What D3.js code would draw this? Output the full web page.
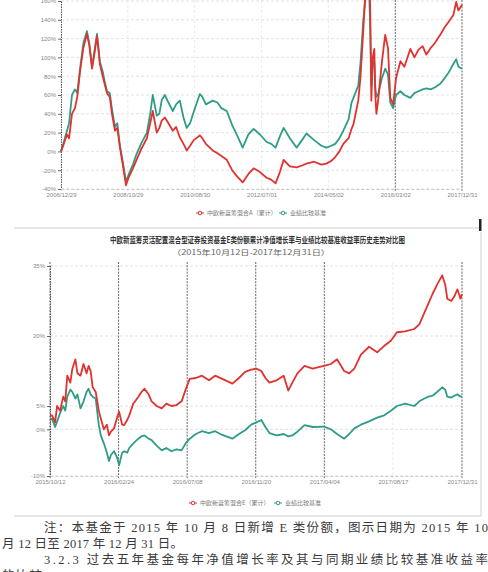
<!DOCTYPE html>
<html>
<head>
<meta charset="utf-8">
<script src="https://cdn.jsdelivr.net/npm/d3@7"></script>
<style>
  body { margin: 0; background: #fff; }
  svg { display: block; }
</style>
</head>
<body>
<div id="wrapper"></div>
<script>
// ---- data: top chart (since inception)
const topDates = [
  "2006-12-29","2007-01-20","2007-02-27","2007-03-20","2007-04-18","2007-05-18","2007-06-10","2007-07-08","2007-08-10","2007-09-15",
  "2007-10-10","2007-11-05","2007-12-01","2007-12-25","2008-01-23","2008-02-20","2008-03-10","2008-04-03","2008-05-01","2008-05-23",
  "2008-06-22","2008-07-15","2008-08-11","2008-09-10","2008-10-10","2008-11-05","2008-12-19","2009-01-20","2009-03-10","2009-05-08",
  "2009-06-10","2009-07-06","2009-08-15","2009-09-10","2009-10-05","2009-11-04","2009-12-10","2010-01-23","2010-02-25","2010-04-03",
  "2010-05-10","2010-06-11","2010-07-15","2010-08-20","2010-10-21","2010-11-15","2010-12-20","2011-02-27","2011-04-15","2011-05-25",
  "2011-07-18","2011-09-10","2011-10-25","2011-12-24","2012-02-20","2012-04-12","2012-06-15","2012-08-20","2012-10-05","2012-11-18",
  "2012-12-31","2013-02-07","2013-04-10","2013-06-17","2013-08-10","2013-09-24","2013-12-10","2014-02-20","2014-04-12","2014-06-01",
  "2014-07-09","2014-08-20","2014-09-28","2014-11-20","2014-12-20","2015-01-08","2015-02-25","2015-03-20","2015-04-17","2015-05-10",
  "2015-05-27","2015-06-12","2015-06-25","2015-07-06","2015-07-20","2015-08-05","2015-08-15","2015-08-26","2015-09-13","2015-10-20",
  "2015-11-22","2015-12-20","2016-01-12","2016-02-10","2016-03-10","2016-04-23","2016-06-01","2016-07-31","2016-09-10","2016-10-20",
  "2016-12-01","2017-01-08","2017-02-20","2017-04-01","2017-05-27","2017-07-10","2017-08-20","2017-10-05","2017-11-03","2017-11-25",
  "2017-12-31"
]
const topFund = [
  0, 6, 18, 14, 40, 46, 58, 85, 110, 125,
  112, 88, 105, 123, 93, 80, 72, 62, 58, 40,
  22, 25, 4, -15, -36, -28, -18, -10, 2, 14,
  30, 43, 20, 25, 33, 36, 30, 22, 26, 15,
  8, 1, 6, 12, 17, 14, 8, 1, -2, -5,
  -9, -20, -26, -33, -24, -18, -22, -28, -30, -34,
  -22, -9, -16, -17, -15, -13, -11, -14, -13, -10,
  -6, 0, 8, 14, 24, 29, 54, 80, 130, 175,
  190, 200, 150, 54, 100, 109, 60, 40, 55, 95,
  124, 110, 57, 50, 78, 96, 90, 109, 100, 108,
  112, 103, 110, 115, 124, 132, 138, 145, 159, 150,
  156
]
const topBench = [
  0, 8, 22, 30, 60, 66, 62, 88, 115, 128,
  114, 90, 108, 125, 95, 85, 75, 64, 62, 45,
  26, 30, 6, -12, -32, -25, -14, -4, 8, 20,
  40, 60, 38, 40, 55, 60, 52, 43, 50, 54,
  36, 25, 30, 42, 61, 58, 50, 54, 52, 46,
  43, 28, 18, 4, 18, 24, 18, 10, 8, 4,
  16, 25, 14, 4, 12, 19, 12, 6, 4, 6,
  8, 14, 22, 34, 52, 57, 70, 95, 140, 165,
  175, 180, 130, 70, 96, 94, 67, 58, 61, 78,
  88, 82, 52, 46, 60, 64, 60, 57, 62, 64,
  66, 67, 66, 68, 72, 78, 84, 93, 98, 90,
  88
]
const topXTicks = ["2006-12-29","2008-10-29","2010-08-30","2012-07-01","2014-05-02","2016-03-02","2017-12-31"]
const topYTicks = [-40, -20, 0, 20, 40, 60, 80, 100, 120, 140, 160]
const topLegend = ["中欧新蓝筹混合A（累计）", "业绩比较基准"]

// ---- data: bottom chart (E share)
const bottomDates = [
  "2015-10-12","2015-10-16","2015-10-22","2015-10-26","2015-11-01","2015-11-07","2015-11-11","2015-11-15","2015-11-21","2015-11-25",
  "2015-12-01","2015-12-05","2015-12-11","2015-12-17","2015-12-23","2015-12-27","2015-12-31","2016-01-04","2016-01-10","2016-01-16",
  "2016-01-20","2016-01-26","2016-02-01","2016-02-05","2016-02-09","2016-02-15","2016-02-21","2016-02-25","2016-03-02","2016-03-06",
  "2016-03-12","2016-03-16","2016-03-24","2016-04-03","2016-04-09","2016-04-15","2016-04-23","2016-04-29","2016-05-09","2016-05-19",
  "2016-05-28","2016-06-07","2016-06-17","2016-06-27","2016-07-05","2016-07-13","2016-07-25","2016-08-06","2016-08-20","2016-09-01",
  "2016-09-15","2016-10-05","2016-10-18","2016-10-30","2016-11-11","2016-11-21","2016-12-01","2016-12-09","2016-12-17","2016-12-31",
  "2017-01-14","2017-01-23","2017-01-31","2017-02-10","2017-02-24","2017-03-12","2017-04-03","2017-04-17","2017-04-29","2017-05-13",
  "2017-05-23","2017-06-02","2017-06-15","2017-07-01","2017-07-17","2017-07-31","2017-08-13","2017-08-25","2017-09-10","2017-09-28",
  "2017-10-08","2017-10-18","2017-10-26","2017-11-03","2017-11-12","2017-11-22","2017-11-28","2017-12-02","2017-12-10","2017-12-16",
  "2017-12-22","2017-12-28","2017-12-31"
]
const bottomFund = [
  3, 3, 1.5, 5, 4, 7, 6, 11.5, 10, 13,
  15, 12, 11.5, 14, 12, 13.6, 12.5, 9, 8, 4,
  2.3, 0, 1, -1.3, -0.5, 0.2, 2.5, 3.8, 1, 0.9,
  2, 3, 5.5, 7, 8, 8.7, 7.5, 6, 5, 4.5,
  5.5, 5, 5.2, 6, 8.5, 10.8, 11, 11.5, 10.5, 11.5,
  10.8, 9.8, 11, 12.3, 12.8, 13, 12.5, 11, 10, 10.5,
  11.5, 8.3, 10, 12, 13.6, 13, 13.6, 14, 15, 12.5,
  12, 13, 16, 17.7, 16.5, 17.9, 19, 20.8, 21, 21.5,
  22.5, 25, 27, 29, 31, 33, 31, 28, 27.5, 28.5,
  30, 28, 29
]
const bottomBench = [
  2, 2.3, 0.5, 1.7, 3.5, 5, 4, 7, 8.5, 8,
  6.6, 7.5, 4.5, 6, 8, 8.7, 7.5, 7, 6.6, 1,
  -1.3, -3, -5, -6.8, -5.5, -4.7, -6, -7.7, -5, -4.7,
  -5, -4, -3, -2, -1.5, -1.3, -2, -2.3, -3.5, -4.5,
  -4, -4.7, -4.3, -4.5, -3, -2, -1, -0.4, -0.8, -0.4,
  -1.2, -2, -1, -0.2, 1, 1.5, 2, 0.5, -0.8, -1.3,
  -1, -1.5, -1.3, -0.5, 0.9, 0.5, 0.6, 0, -1, -2,
  -1, 0.2, 1, 1.7, 2.5, 3, 4, 5, 5.5, 5,
  6, 6.6, 7, 7.2, 8, 9, 8.5, 7, 6.8, 7.2,
  7.5, 7, 7
]
const bottomXTicks = ["2015-10-12","2016-02-24","2016-07-08","2016-11-20","2017-04-04","2017-08-17","2017-12-31"]
const bottomYTicks = [-10, 0, 5, 20, 35]
const bottomLegend = ["中欧新蓝筹混合E（累计）", "业绩比较基准"]
const bottomTitle = "中欧新蓝筹灵活配置混合型证券投资基金E类份额累计净值增长率与业绩比较基准收益率历史走势对比图"
const bottomSubtitle = "（2015年10月12日-2017年12月31日）"

const noteLines = [
  "注：本基金于 2015 年 10 月 8 日新增 E 类份额，图示日期为 2015 年 10",
  "月 12 日至 2017 年 12 月 31 日。",
  "3.2.3 过去五年基金每年净值增长率及其与同期业绩比较基准收益率",
  "的比较"
]

const fundColor = "#e1322f"
const benchColor = "#2f9c86"
const parseDate = d3.timeParse("%Y-%m-%d")
const formatDate = d3.timeFormat("%Y/%m/%d")

const wrapper = d3.select("#wrapper")
  .append("svg")
    .attr("width", 488)
    .attr("height", 572)

function drawPanel(p) {
  const xScale = d3.scaleTime()
    .domain([parseDate(p.xTicks[0]), parseDate(p.xTicks[p.xTicks.length - 1])])
    .range([p.left, p.right])
  const yScale = d3.scaleLinear()
    .domain(p.yDomain)
    .range([p.bottom, p.top])

  const g = wrapper.append("g")

  // grid
  g.append("g").selectAll("line")
    .data(p.yTicks)
    .join("line")
      .attr("x1", p.left)
      .attr("x2", p.right)
      .attr("y1", d => yScale(d))
      .attr("y2", d => yScale(d))
      .attr("stroke", "#d6d6d6")
      .attr("stroke-width", 0.7)
      .attr("stroke-dasharray", "3,2")

  g.append("g").selectAll("line")
    .data(p.xTicks)
    .join("line")
      .attr("x1", d => xScale(parseDate(d)))
      .attr("x2", d => xScale(parseDate(d)))
      .attr("y1", p.vTop)
      .attr("y2", p.bottom + 2)
      .attr("stroke", (d, i) => p.darkX.includes(i) ? "#555" : "#e2e2e2")
      .attr("stroke-width", (d, i) => p.darkX.includes(i) ? 0.9 : 0.7)
      .attr("stroke-dasharray", (d, i) => p.darkX.includes(i) ? "2,1.2" : "3,2")

  // lines
  const line = values => d3.line()
    .x((d, i) => xScale(parseDate(p.dates[i])))
    .y(d => yScale(d))(values)

  g.append("path")
    .attr("d", line(p.bench))
    .attr("fill", "none")
    .attr("stroke", benchColor)
    .attr("stroke-width", 1.8)
    .attr("stroke-linejoin", "round")
  g.append("path")
    .attr("d", line(p.fund))
    .attr("fill", "none")
    .attr("stroke", fundColor)
    .attr("stroke-width", 1.8)
    .attr("stroke-linejoin", "round")

  // axes
  const yAxis = d3.axisLeft(yScale)
    .tickValues(p.yTicks)
    .tickFormat(d => d + "%")
    .tickSize(3)
    .tickPadding(2)
  g.append("g")
    .attr("transform", `translate(${p.left},0)`)
    .call(yAxis)
    .call(a => a.select(".domain").attr("stroke", "#555").attr("stroke-dasharray", "1.5,1"))
    .call(a => a.selectAll(".tick line").attr("stroke", "#666"))
    .call(a => a.selectAll("text")
      .attr("font-size", 6)
      .attr("font-family", "Liberation Sans, sans-serif")
      .attr("fill", "#888"))

  const xAxis = d3.axisBottom(xScale)
    .tickValues(p.xTicks.map(parseDate))
    .tickFormat(formatDate)
    .tickSize(0)
    .tickPadding(4)
  g.append("g")
    .attr("transform", `translate(0,${p.bottom})`)
    .call(xAxis)
    .call(a => a.select(".domain").attr("stroke", "#ccc").attr("stroke-dasharray", "3,2"))
    .call(a => a.selectAll("text")
      .attr("font-size", 6)
      .attr("font-family", "Liberation Sans, sans-serif")
      .attr("fill", "#888"))

  // legend
  const items = [
    {label: p.legend[0], color: fundColor, x: p.legendX[0]},
    {label: p.legend[1], color: benchColor, x: p.legendX[1]}
  ]
  const leg = g.append("g").selectAll("g")
    .data(items)
    .join("g")
      .attr("transform", d => `translate(${d.x},${p.legendY})`)
  leg.append("line")
    .attr("x1", -4).attr("x2", 4)
    .attr("stroke", d => d.color)
    .attr("stroke-width", 1)
  leg.append("circle")
    .attr("r", 1.8)
    .attr("fill", "#fff")
    .attr("stroke", d => d.color)
    .attr("stroke-width", 1)
  leg.append("text")
    .attr("x", 7)
    .attr("dy", "0.35em")
    .attr("font-size", 6)
    .attr("font-family", "Noto Sans CJK SC, sans-serif")
    .attr("fill", "#777")
    .text(d => d.label)
}

// top panel
drawPanel({
  dates: topDates, fund: topFund, bench: topBench,
  xTicks: topXTicks, yTicks: topYTicks, yDomain: [-40, 160],
  left: 61, right: 462, top: 1, bottom: 189, vTop: 0,
  darkX: [5, 6], legend: topLegend, legendX: [200, 283], legendY: 213
})
wrapper.append("line")
  .attr("x1", 14).attr("x2", 480).attr("y1", 228).attr("y2", 228)
  .attr("stroke", "#d0d0d0")
wrapper.append("rect")
  .attr("x", 479).attr("y", 219).attr("width", 2.5).attr("height", 12)
  .attr("fill", "#222")

// bottom panel
wrapper.append("text")
  .attr("x", 110).attr("y", 243)
  .attr("textLength", 295)
  .attr("lengthAdjust", "spacingAndGlyphs")
  .attr("font-size", 8.5)
  .attr("font-weight", "bold")
  .attr("font-family", "Noto Sans CJK SC, sans-serif")
  .attr("fill", "#333")
  .text(bottomTitle)
wrapper.append("text")
  .attr("x", 172).attr("y", 255)
  .attr("textLength", 158)
  .attr("lengthAdjust", "spacingAndGlyphs")
  .attr("font-size", 7)
  .attr("font-family", "Noto Sans CJK SC, sans-serif")
  .attr("fill", "#666")
  .text(bottomSubtitle)

drawPanel({
  dates: bottomDates, fund: bottomFund, bench: bottomBench,
  xTicks: bottomXTicks, yTicks: bottomYTicks, yDomain: [-10, 35],
  left: 50, right: 462, top: 266, bottom: 476, vTop: 262,
  darkX: [0, 1, 2, 3, 4, 6], legend: bottomLegend, legendX: [193, 278], legendY: 503
})
wrapper.append("path")
  .attr("d", "M14,516H481V232")
  .attr("fill", "none")
  .attr("stroke", "#d0d0d0")

// notes under the chart
const noteLayout = [
  {x: 44, y: 532, w: 444},
  {x: 2, y: 548, w: 181},
  {x: 44, y: 564, w: 444},
  {x: 2, y: 580, w: 40}
]
wrapper.append("g").selectAll("text")
  .data(noteLines)
  .join("text")
    .attr("x", (d, i) => noteLayout[i].x)
    .attr("y", (d, i) => noteLayout[i].y)
    .attr("textLength", (d, i) => noteLayout[i].w)
    .attr("lengthAdjust", "spacing")
    .attr("font-size", 12.5)
    .attr("font-family", "Liberation Serif, Noto Sans CJK SC, serif")
    .attr("fill", "#3a3a3a")
    .text(d => d)
</script>
</body>
</html>
